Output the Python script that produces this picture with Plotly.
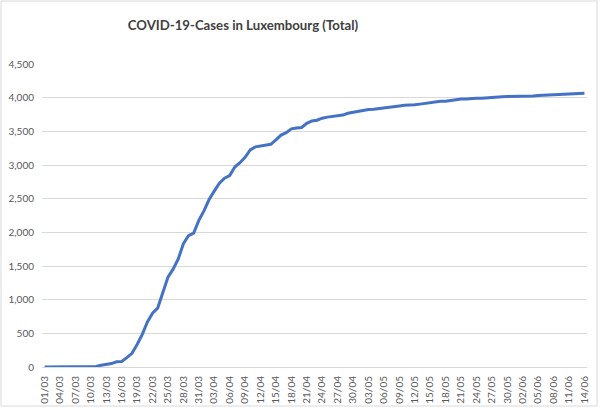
import pandas as pd
import plotly.graph_objects as go

# Dates (categories) 01/03/2020 .. 14/06/2020
dates = [d.strftime("%d/%m") for d in pd.date_range("2020-03-01", "2020-06-14", freq="D")]

# Cumulative cases
cases = [
    1, 1, 1, 1, 2, 3, 4, 5, 5, 7,            # 01/03-10/03
    7, 26, 34, 51, 77, 81, 140, 203, 335, 484,  # 11/03-20/03
    670, 798, 875, 1099, 1333, 1453, 1605, 1831, 1950, 1988,  # 21/03-30/03
    2178, 2319, 2487, 2612, 2729, 2804, 2843, 2970, 3034, 3115,  # 31/03-09/04
    3223, 3270, 3281, 3292, 3307, 3373, 3444, 3480, 3537, 3550,  # 10/04-19/04
    3558, 3618, 3654, 3665, 3695, 3711, 3723, 3729, 3741, 3769,  # 20/04-29/04
    3784, 3802, 3811, 3824, 3828, 3840, 3851, 3859, 3871, 3877,  # 30/04-09/05
    3886, 3888, 3894, 3904, 3915, 3923, 3930, 3945, 3947, 3958,  # 10/05-19/05
    3971, 3980, 3981, 3990, 3990, 3993, 3995, 4001, 4008, 4012,  # 20/05-29/05
    4016, 4016, 4018, 4019, 4020, 4024, 4032, 4035, 4039, 4040,  # 30/05-08/06
    4040, 4043, 4048, 4052, 4055, 4066,      # 09/06-14/06
]

y_ticks = [0, 500, 1000, 1500, 2000, 2500, 3000, 3500, 4000, 4500]
title_text = "COVID-19-Cases in Luxembourg (Total)"

fig = go.Figure()
fig.add_trace(go.Scatter(
    x=dates, y=cases, mode="lines",
    line=dict(color="#4472C4", width=3),
    hoverinfo="x+y",
))

label_font = dict(family="Lato, Carlito, sans-serif", size=10, color="#595959")

L, R, T, B = 42, 13, 64, 41
PW, PH = 600 - L - R, 408 - T - B

fig.update_layout(
    width=600, height=408,
    margin=dict(l=L, r=R, t=T, b=B, autoexpand=False),
    paper_bgcolor="white", plot_bgcolor="white",
    showlegend=False,
    title=dict(
        text="<b>" + title_text + "</b>",
        x=243 / 600, xanchor="center", y=1 - 25 / 408, yanchor="middle",
        font=dict(family="Lato, Carlito, sans-serif", size=13.2, color="#404040"),
    ),
    xaxis=dict(
        type="category",
        range=[-0.5, len(dates) - 0.5],
        tickmode="array",
        tickvals=dates[::3], ticktext=dates[::3],
        tickangle=-90,
        tickfont=label_font,
        showgrid=False,
        showline=True, linecolor="#D9D9D9", linewidth=1,
        ticks="", ticklabelstandoff=4,
        zeroline=False, automargin=False,
    ),
    yaxis=dict(
        range=[0, 4500],
        tickmode="array",
        tickvals=y_ticks,
        ticktext=[f"{v:,}" for v in y_ticks],
        tickfont=label_font,
        showgrid=True, gridcolor="#D9D9D9", gridwidth=1,
        zeroline=False, showline=False,
        ticks="", ticklabelstandoff=7, automargin=False,
    ),
    shapes=[dict(
        type="rect", xref="paper", yref="paper",
        x0=-(L - 1) / PW, x1=1 + (R - 3) / PW, y0=-(B - 2) / PH, y1=1 + (T - 1) / PH,
        line=dict(color="#D9D9D9", width=1), fillcolor="rgba(0,0,0,0)",
        layer="below",
    )],
)

fig.write_html(
    "out.html",
    config={"displayModeBar": False},
    post_script="document.body.style.margin='0';",
)
